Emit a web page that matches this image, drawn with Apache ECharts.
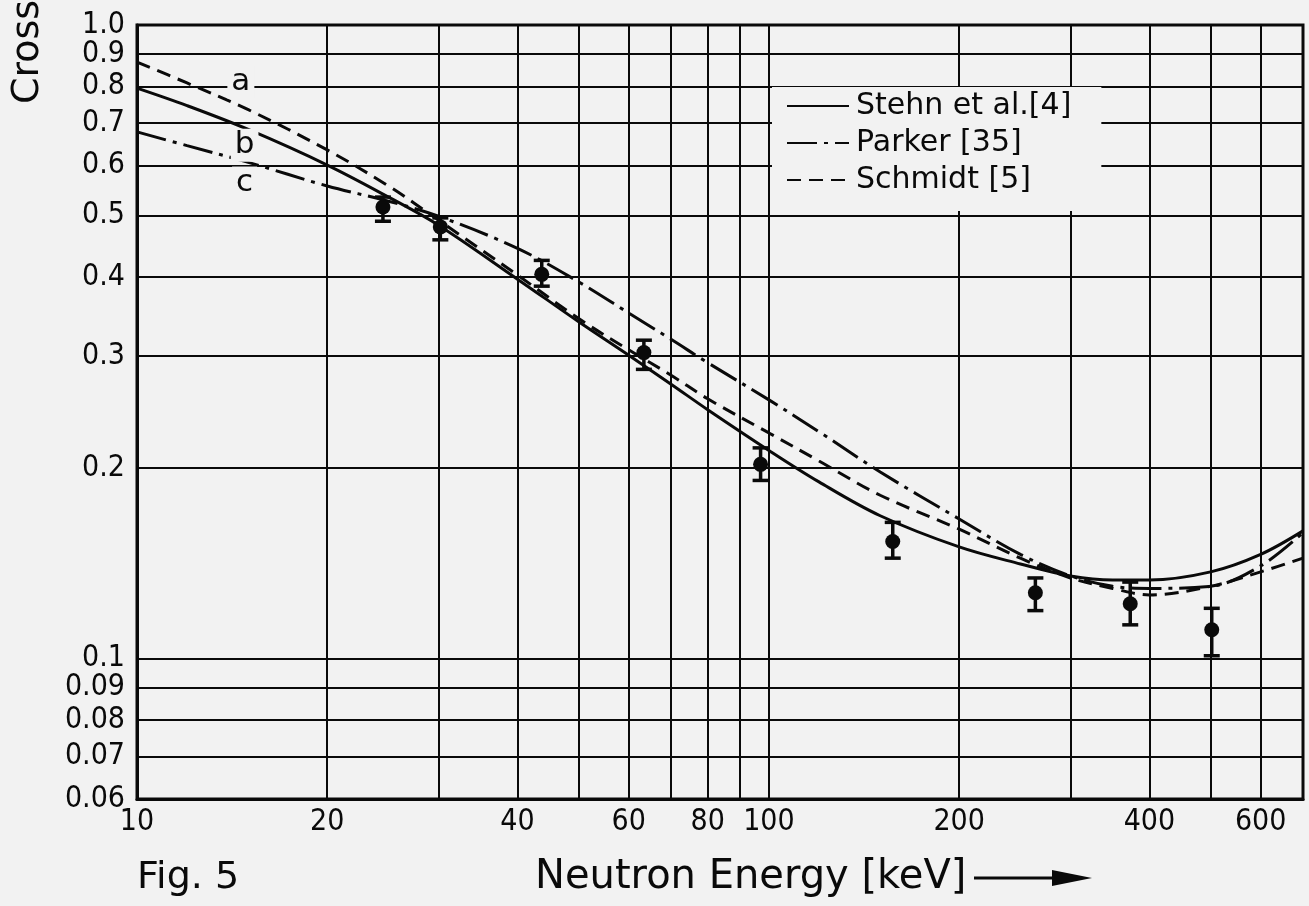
<!DOCTYPE html>
<html>
<head>
<meta charset="utf-8">
<script src="https://cdn.jsdelivr.net/npm/echarts@6.0.0/dist/echarts.min.js"></script>
<style>
  html, body { margin: 0; padding: 0; background: #f2f2f2; }
  #chart { width: 1309px; height: 906px; }
</style>
</head>
<body>
<div id="chart"></div>
<script>
const energyKeV = [10, 12, 15, 20, 25, 30, 40, 50, 60, 70, 80, 100, 120, 150, 200, 250, 300, 350, 400, 500, 600, 700];
// curve b - Stehn et al.
const stehn = [0.795, 0.746, 0.684, 0.601, 0.535, 0.483, 0.397, 0.340, 0.301, 0.271, 0.247, 0.213, 0.190, 0.168, 0.150, 0.141, 0.135, 0.133, 0.133, 0.137, 0.146, 0.159];
// curve c - Parker
const parker = [0.678, 0.645, 0.607, 0.557, 0.527, 0.499, 0.444, 0.393, 0.351, 0.319, 0.293, 0.256, 0.228, 0.197, 0.166, 0.146, 0.135, 0.130, 0.129, 0.130, 0.140, 0.158];
// curve a - Schmidt
const schmidt = [0.874, 0.810, 0.735, 0.635, 0.557, 0.492, 0.403, 0.344, 0.307, 0.280, 0.257, 0.227, 0.205, 0.181, 0.160, 0.144, 0.134, 0.129, 0.126, 0.130, 0.137, 0.144];

// measured points with error bars
const pointE = [24.5, 30.2, 43.7, 63.4, 97.0, 157, 264, 373, 502];
const pointSigma = [0.516, 0.480, 0.404, 0.304, 0.2025, 0.153, 0.127, 0.122, 0.111];
const errLow = [0.490, 0.458, 0.387, 0.286, 0.191, 0.144, 0.119, 0.113, 0.101];
const errHigh = [0.535, 0.496, 0.425, 0.318, 0.215, 0.164, 0.134, 0.132, 0.120];

// axis grid / label values
const xGridValues = [10, 20, 30, 40, 50, 60, 70, 80, 90, 100, 200, 300, 400, 500, 600];
const xLabelValues = [10, 20, 40, 60, 80, 100, 200, 400, 600];
const yGridValues = [0.06, 0.07, 0.08, 0.09, 0.1, 0.2, 0.3, 0.4, 0.5, 0.6, 0.7, 0.8, 0.9, 1.0];
const yLabelValues = [0.06, 0.07, 0.08, 0.09, 0.1, 0.2, 0.3, 0.4, 0.5, 0.6, 0.7, 0.8, 0.9];
// the top label sits on a helper axis, otherwise echarts drops it or 0.9
const yTopLabelValues = [1.0];

// curve tags a, b, c
const tagNames = ['a', 'b', 'c'];
const tagE = [14.6, 14.8, 14.8];
const tagSigma = [0.813, 0.646, 0.563];

const ink = '#0a0a0a';
const bg = '#f2f2f2';
const tickFont = '"DejaVu Sans Condensed", "Liberation Sans Narrow", "DejaVu Sans", sans-serif';
const textFont = '"DejaVu Sans", sans-serif';

const curve = (name, values, type) => ({
  name: name,
  type: 'line',
  data: energyKeV.map((e, i) => [e, values[i]]),
  smooth: 0.35,
  symbol: 'none',
  lineStyle: { color: ink, width: 3, type: type },
  itemStyle: { color: ink },
  z: 3
});

const yLabelStyle = {
  hideOverlap: false,
  margin: 12,
  color: ink, fontSize: 30, fontFamily: tickFont,
  formatter: v => {
    const n = Number(Number(v).toPrecision(2));
    return n === 1 ? '1.0' : String(n);
  }
};

const myChart = echarts.init(document.getElementById('chart'));

const option = {
  animation: false,
  backgroundColor: bg,
  grid: {
    left: 137, right: 6, top: 25, bottom: 107,
    show: true, borderColor: ink, borderWidth: 3, backgroundColor: 'transparent'
  },
  legend: {
    left: 772, top: 87,
    padding: [4, 30, 16, 14],
    backgroundColor: bg,
    orient: 'vertical',
    itemWidth: 62, itemHeight: 14, itemGap: 7,
    data: ['Stehn et al.[4]', 'Parker [35]', 'Schmidt [5]'],
    // hide the symbol in the legend icon, keep the line pattern
    itemStyle: { color: 'rgba(0,0,0,0)', borderWidth: 0 },
    textStyle: { color: ink, fontSize: 30, fontFamily: textFont, lineHeight: 30, padding: [0, 0, 0, 2] },
    z: 10
  },
  xAxis: {
    type: 'log', logBase: 10, min: 10, max: 700,
    axisLine: { lineStyle: { color: ink, width: 3 } },
    axisTick: { show: false, customValues: xGridValues },
    axisLabel: {
      customValues: xLabelValues,
      showMinLabel: true, showMaxLabel: true, hideOverlap: false,
      color: ink, fontSize: 30, fontFamily: tickFont, margin: 8,
      formatter: v => String(Math.round(v))
    },
    splitLine: { show: true, lineStyle: { color: ink, width: 2 } }
  },
  yAxis: [
    {
      type: 'log', logBase: 10, min: 0.06, max: 1.0,
      axisLine: { lineStyle: { color: ink, width: 3 } },
      axisTick: { show: false, customValues: yGridValues },
      axisLabel: Object.assign({ customValues: yLabelValues, showMinLabel: true }, yLabelStyle),
      splitLine: { show: true, lineStyle: { color: ink, width: 2 } }
    },
    {
      type: 'log', logBase: 10, min: 0.06, max: 1.0,
      position: 'left',
      axisLine: { show: false },
      axisTick: { show: false },
      splitLine: { show: false },
      axisLabel: Object.assign({ customValues: yTopLabelValues, showMaxLabel: true }, yLabelStyle)
    }
  ],
  series: [
    curve('Stehn et al.[4]', stehn, 'solid'),
    curve('Parker [35]', parker, [30, 7, 4, 7]),
    curve('Schmidt [5]', schmidt, [14, 8]),
    {
      type: 'custom',
      name: 'errors',
      data: pointE.map((e, i) => [e, pointSigma[i], errLow[i], errHigh[i]]),
      z: 4,
      renderItem: (params, api) => {
        const top = api.coord([api.value(0), api.value(3)]);
        const bot = api.coord([api.value(0), api.value(2)]);
        const w = 8;
        const style = { stroke: ink, lineWidth: 3.5 };
        return {
          type: 'group',
          children: [
            { type: 'line', shape: { x1: top[0], y1: top[1], x2: bot[0], y2: bot[1] }, style: style },
            { type: 'line', shape: { x1: top[0] - w, y1: top[1], x2: top[0] + w, y2: top[1] }, style: style },
            { type: 'line', shape: { x1: bot[0] - w, y1: bot[1], x2: bot[0] + w, y2: bot[1] }, style: style }
          ]
        };
      }
    },
    {
      type: 'scatter',
      name: 'points',
      data: pointE.map((e, i) => [e, pointSigma[i]]),
      symbol: 'circle',
      symbolSize: 15,
      itemStyle: { color: ink, opacity: 1 },
      z: 5
    },
    {
      type: 'scatter',
      name: 'tags',
      data: tagE.map((e, i) => [e, tagSigma[i], tagNames[i]]),
      symbolSize: 0,
      itemStyle: { opacity: 1 },
      z: 6,
      label: {
        show: true,
        position: 'inside',
        formatter: p => p.data[2],
        color: ink,
        fontSize: 31,
        fontFamily: textFont,
        backgroundColor: bg,
        padding: [0, 4, 2, 4]
      }
    }
  ],
  graphic: [
    {
      type: 'text', x: 28, y: 104, rotation: Math.PI / 2,
      style: { text: 'Cross', font: '38px ' + textFont, fill: ink, textAlign: 'left', textVerticalAlign: 'middle' }
    },
    {
      type: 'text', x: 137, y: 878,
      style: { text: 'Fig. 5', font: '38px ' + textFont, fill: ink, textAlign: 'left', textVerticalAlign: 'middle' }
    },
    {
      type: 'text', x: 535, y: 878,
      style: { text: 'Neutron Energy [keV]', font: '40px ' + textFont, fill: ink, textAlign: 'left', textVerticalAlign: 'middle' }
    },
    {
      type: 'line', shape: { x1: 974, y1: 878, x2: 1060, y2: 878 },
      style: { stroke: ink, lineWidth: 3 }
    },
    {
      type: 'polygon', shape: { points: [[1052, 870], [1092, 878], [1052, 886]] },
      style: { fill: ink }
    }
  ]
};

myChart.setOption(option);
window.addEventListener('resize', () => myChart.resize());
</script>
</body>
</html>
